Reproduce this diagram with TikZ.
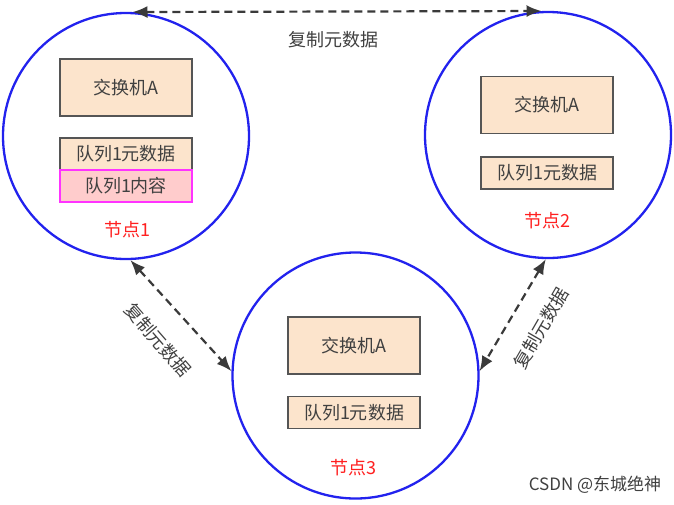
\documentclass[tikz,border=0pt]{standalone}
\usepackage{fontspec}
\setmainfont{Noto Sans CJK SC}
\usetikzlibrary{arrows.meta}
\definecolor{ringblue}{HTML}{2222EE}
\definecolor{peach}{HTML}{FCE4CC}
\definecolor{boxline}{HTML}{555555}
\definecolor{pinkfill}{HTML}{FFCCCC}
\definecolor{pinkline}{HTML}{FF33FF}
\definecolor{txtgray}{HTML}{404040}
\definecolor{lblred}{HTML}{FF2020}
\definecolor{arrgray}{HTML}{3A3A3A}
\begin{document}
\begin{tikzpicture}[x=1pt,y=-1pt,
  ring/.style={draw=ringblue, line width=2.3pt, circle, minimum size=246pt, inner sep=0pt},
  bigbox/.style={draw=boxline, line width=1.6pt, fill=peach, minimum width=132pt, minimum height=57pt, inner sep=0pt, text=txtgray, font=\fontsize{18}{20}\selectfont},
  metabox/.style={draw=boxline, line width=1.6pt, fill=peach, minimum width=132pt, minimum height=32pt, inner sep=0pt, text=txtgray, font=\fontsize{18}{20}\selectfont},
  contentbox/.style={draw=pinkline, line width=1.6pt, fill=pinkfill, minimum width=132pt, minimum height=32pt, inner sep=0pt, text=txtgray, font=\fontsize{18}{20}\selectfont},
  nodelbl/.style={text=lblred, font=\fontsize{18}{20}\selectfont, inner sep=0pt},
  synclbl/.style={text=txtgray, font=\fontsize{18}{20}\selectfont, inner sep=0pt},
  tiphead/.style={Latex[length=15pt,width=12pt]},
  syncarrow/.style={draw=arrgray, line width=2.2pt, dash pattern=on 8pt off 5pt, {Latex[length=15pt,width=12pt]}-{Latex[length=15pt,width=12pt]}}
]
\useasboundingbox (0,0) rectangle (674,504);
\fill[white] (0,0) rectangle (674,504);

% circles
\node[ring] (c1) at (126,136) {};
\node[ring] (c2) at (548,135) {};
\node[ring] (c3) at (355.5,375.5) {};

% node 1 contents
\node[bigbox] (sw1) at (126,87.5) {交换机A};
\node[metabox] (meta1) at (126,154) {队列1元数据};
\node[contentbox] (cont1) at (126,186) {队列1内容};
\node[nodelbl] (l1) at (127,230) {节点1};

% node 2 contents
\node[bigbox] (sw2) at (547,105) {交换机A};
\node[metabox] (meta2) at (547,173) {队列1元数据};
\node[nodelbl] (l2) at (547,221) {节点2};

% node 3 contents
\node[bigbox] (sw3) at (354,345.5) {交换机A};
\node[metabox] (meta3) at (354,412.5) {队列1元数据};
\node[nodelbl] (l3) at (353,468) {节点3};

% connectors
\draw[syncarrow] (c1.87) -- (c2.93);
\draw[syncarrow] (c1.-88) -- (c3.178);
\draw[syncarrow] (c2.-91) -- (c3.2);

% connector labels
\node[synclbl] (t12) at (333,40) {复制元数据};
\node[synclbl, rotate=-49] (t13) at (158,340) {复制元数据};
\node[synclbl, rotate=60] (t23) at (541,328) {复制元数据};

% watermark
\node[text=txtgray, font=\fontsize{17}{19}\selectfont, inner sep=0pt] (wm) at (595,485) {CSDN @东城绝神};
\end{tikzpicture}
\end{document}
